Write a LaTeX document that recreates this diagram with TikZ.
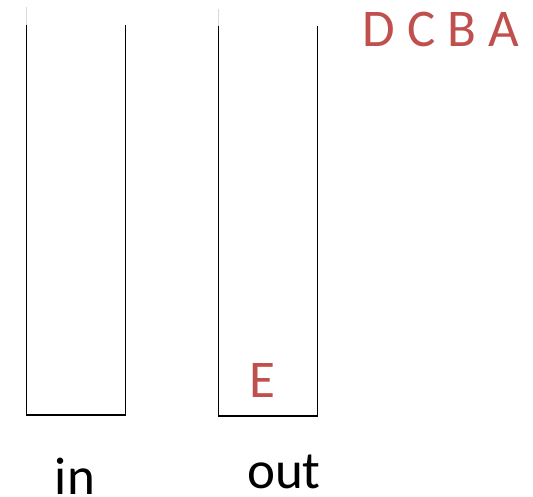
\documentclass[tikz,border=0pt]{standalone}
\usepackage{fontspec}
\setmainfont{Carlito}
\definecolor{accred}{HTML}{C0504D}
\begin{document}
\begin{tikzpicture}[x=1pt,y=-1pt,
  wall/.style={line width=1.8pt,black},
  ghost/.style={line width=1.4pt,black!15},
  big/.style={font=\fontsize{53}{60}\selectfont,inner sep=0pt,anchor=base}]
\useasboundingbox (0,0) rectangle (533,497);
% left container (in)
\draw[ghost] (26.5,7) -- (26.5,25);
\draw[wall] (26.5,25) -- (26.5,415) -- (125.5,415) -- (125.5,25);
% right container (out)
\draw[ghost] (218.5,9) -- (218.5,26);
\draw[wall] (218.5,26) -- (218.5,416) -- (317.5,416) -- (317.5,26);
% labels
\node[big,text=accred] (queue) at (441,47) {D C B A};
\node[big,text=accred] (e) at (262,397) {E};
\node[big] (in) at (75,494) {in};
\node[big] (out) at (284,488) {out};
\end{tikzpicture}
\end{document}
